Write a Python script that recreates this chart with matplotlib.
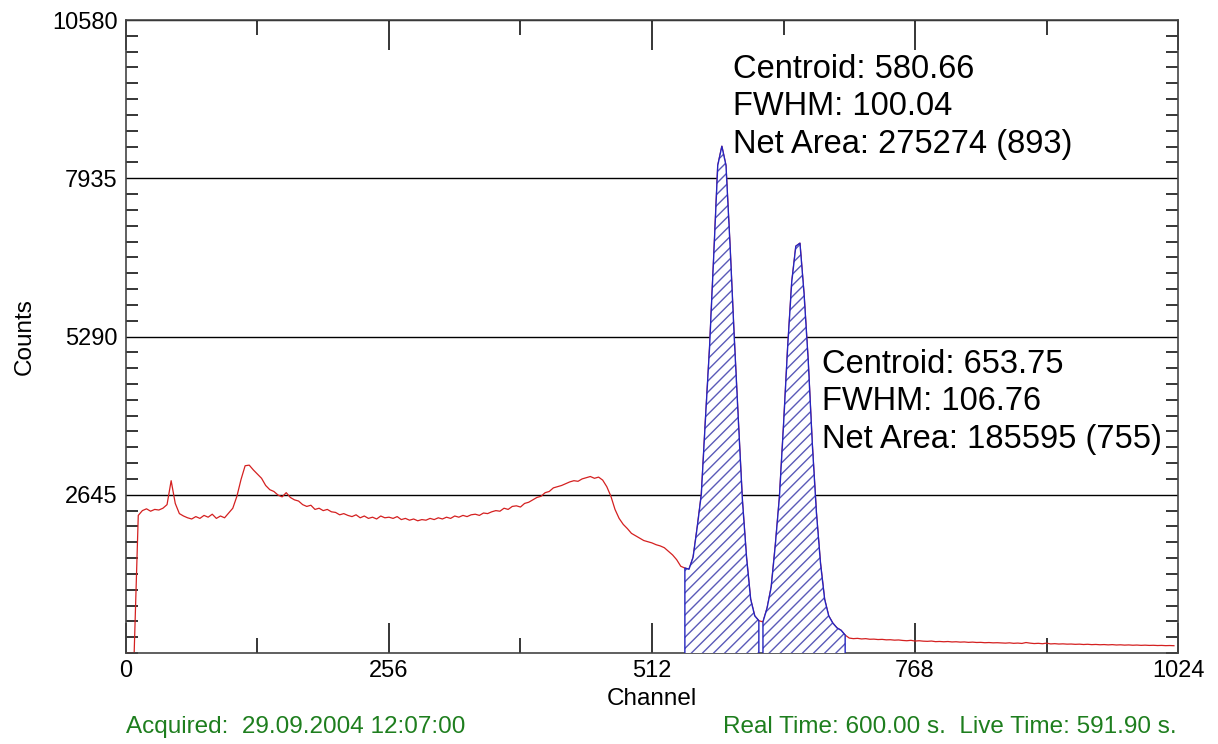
import numpy as np
import matplotlib.pyplot as plt
from matplotlib.ticker import FixedLocator, MultipleLocator

plt.rcParams['font.family'] = ['Liberation Sans', 'DejaVu Sans']

# spectrum, one value every 4 channels
counts = [
    0, 0, 0, 2300, 2380, 2410, 2370, 2400, 2390, 2420, 2480, 2880, 2500, 2330, 2290, 2260,
    2240, 2280, 2250, 2300, 2270, 2320, 2250, 2290, 2260, 2340, 2420, 2620, 2900, 3130, 3140, 3060,
    2990, 2920, 2800, 2730, 2700, 2640, 2610, 2680, 2600, 2560, 2540, 2480, 2450, 2470, 2400, 2420,
    2380, 2400, 2360, 2350, 2310, 2330, 2300, 2280, 2310, 2260, 2290, 2250, 2270, 2240, 2290, 2260,
    2270, 2250, 2280, 2230, 2250, 2220, 2240, 2210, 2230, 2220, 2250, 2230, 2260, 2240, 2270, 2250,
    2290, 2270, 2300, 2280, 2310, 2320, 2300, 2340, 2330, 2360, 2380, 2370, 2420, 2400, 2450, 2460,
    2440, 2500, 2520, 2560, 2600, 2620, 2680, 2700, 2760, 2780, 2800, 2830, 2860, 2880, 2870, 2910,
    2930, 2950, 2920, 2940, 2890, 2780, 2620, 2400, 2250, 2150, 2080, 2000, 1960, 1920, 1880, 1860,
    1840, 1810, 1790, 1760, 1700, 1640, 1560, 1450, 1420, 1400, 1600, 2100, 2650, 3900, 5100, 6600,
    8150, 8470, 8150, 6800, 5290, 3900, 2550, 1600, 900, 620, 540, 520, 750, 1100, 1800, 2600,
    3800, 5100, 6200, 6800, 6850, 6000, 4900, 3500, 2350, 1500, 900, 620, 500, 420, 380, 300,
    250, 240, 245, 235, 240, 230, 232, 225, 228, 220, 222, 215, 218, 210, 205, 212,
    200, 205, 198, 195, 200, 190, 193, 188, 192, 185, 188, 182, 185, 178, 182, 176,
    178, 172, 175, 170, 172, 168, 165, 170, 162, 166, 160, 175, 165, 158, 162, 155,
    165, 152, 156, 150, 153, 148, 150, 145, 148, 142, 146, 140, 143, 138, 141, 136,
    140, 134, 137, 132, 135, 130, 133, 128, 131, 127, 129, 125, 127, 123, 125, 122,
]
channels = np.arange(len(counts)) * 4
counts = np.array(counts)

roi_start = [544, 620]
roi_end = [616, 700]
roi_text = [
    "Centroid: 580.66\nFWHM: 100.04\nNet Area: 275274 (893)",
    "Centroid: 653.75\nFWHM: 106.76\nNet Area: 185595 (755)",
]
text_pos = [(591, 10010), (677, 5080)]

y_major = [2645, 5290, 7935, 10580]
x_major = [0, 256, 512, 768, 1024]
x_minor = [128, 384, 640, 896]

fig = plt.figure(figsize=(12.18, 7.44), dpi=100)
ax = fig.add_axes([0.1034, 0.1223, 0.8638, 0.8508])

ax.plot(channels, counts, color='#d42020', lw=0.9, zorder=2)

for s, e in zip(roi_start, roi_end):
    m = (channels >= s) & (channels <= e)
    xs, ys = channels[m], counts[m]
    ax.fill_between(xs, 0, ys, facecolor='white', edgecolor='#5a5ab8',
                    hatch='///', lw=0, zorder=3)
    ax.plot(np.r_[xs[0], xs, xs[-1]], np.r_[0, ys, 0], color='#2424c0', lw=1.0, zorder=4)

for (tx, ty), t in zip(text_pos, roi_text):
    ax.text(tx, ty, t, fontsize=23.5, va='top', ha='left', linespacing=1.26, zorder=5)

ax.set_xlim(0, 1024)
ax.set_ylim(0, 10580)
ax.xaxis.set_major_locator(FixedLocator(x_major))
ax.xaxis.set_minor_locator(FixedLocator(x_minor))
ax.yaxis.set_major_locator(FixedLocator(y_major))
ax.yaxis.set_minor_locator(MultipleLocator(264.5))

ax.grid(axis='y', which='major', color='black', lw=1.0, zorder=1)
ax.tick_params(axis='x', which='major', direction='in', length=21.6, width=1.1,
               top=True, labelsize=17, pad=5)
ax.tick_params(axis='x', which='minor', direction='in', length=10.8, width=1.1, top=True)
ax.tick_params(axis='y', which='major', length=0, labelsize=17, pad=6)
ax.tick_params(axis='y', which='minor', direction='in', length=8.6, width=1.1, right=True)
for sp in ax.spines.values():
    sp.set_color('#444444')
    sp.set_linewidth(1.2)

ax.set_xlabel("Channel", fontsize=17.5, labelpad=4)
ax.set_ylabel("Counts", fontsize=17.5, labelpad=12)

fig.text(126 / 1218, 1 - 727 / 744, "Acquired:  29.09.2004 12:07:00",
         color='#1e7e1e', fontsize=17.5, ha='left', va='center')
fig.text(1177 / 1218, 1 - 727 / 744, "Real Time: 600.00 s.  Live Time: 591.90 s.",
         color='#1e7e1e', fontsize=17.5, ha='right', va='center')

fig.savefig("out.png", dpi=100)
